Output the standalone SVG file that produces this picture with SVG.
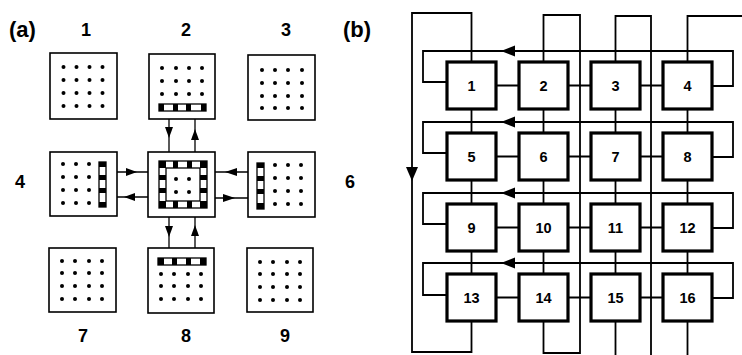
<svg xmlns="http://www.w3.org/2000/svg" width="742" height="355" viewBox="0 0 742 355">
<style>
.bg{fill:#fff}
.box{fill:#fff;stroke:#000;stroke-width:1.6}
.dot{fill:#000}
.bar{fill:#fff;stroke:#000;stroke-width:1.3}
.blk{fill:#000}
.ln{fill:none;stroke:#000;stroke-width:1.3}
.ln2{fill:none;stroke:#000;stroke-width:1.8}
.ah{fill:#000}
.node{fill:#fff;stroke:#000;stroke-width:3.2}
.lbl{font-family:"Liberation Sans",Arial,sans-serif;font-weight:bold;font-size:18px;fill:#000;text-anchor:middle}
.big{font-family:"Liberation Sans",Arial,sans-serif;font-weight:bold;font-size:22px;fill:#000}
.nt{font-family:"Liberation Sans",Arial,sans-serif;font-weight:bold;font-size:14.5px;fill:#000;text-anchor:middle}
</style>
<rect class="bg" x="0" y="0" width="742" height="355"/>

<!-- Part (a) -->
<text class="big" x="9" y="37">(a)</text>
<text class="lbl" x="86" y="36">1</text>
<text class="lbl" x="186" y="36">2</text>
<text class="lbl" x="286" y="36">3</text>
<text class="lbl" x="20" y="188">4</text>
<text class="lbl" x="350" y="188">6</text>
<text class="lbl" x="83" y="342">7</text>
<text class="lbl" x="186" y="342">8</text>
<text class="lbl" x="285" y="342">9</text>

<g id="a-connectors">
  <path class="ln" d="M169 111 V161"/>
  <polygon class="ah" points="165,127 173,127 169,138"/>
  <path class="ln" d="M195 111 V161"/>
  <polygon class="ah" points="191,140 199,140 195,129"/>
  <path class="ln" d="M169 208 V258"/>
  <polygon class="ah" points="165,226 173,226 169,237"/>
  <path class="ln" d="M195 208 V258"/>
  <polygon class="ah" points="191,236 199,236 195,225"/>
  <path class="ln" d="M106 172 H159"/>
  <polygon class="ah" points="126,168 126,176 137,172"/>
  <path class="ln" d="M106 197 H159"/>
  <polygon class="ah" points="135,193 135,201 124,197"/>
  <path class="ln" d="M207 172 H257"/>
  <polygon class="ah" points="237,168 237,176 225,172"/>
  <path class="ln" d="M207 198 H257"/>
  <polygon class="ah" points="223,194 223,202 235,198"/>
</g>

<g id="a1">
  <rect class="box" x="50" y="53" width="67" height="66"/>
  <g class="dot">
    <circle cx="63.5" cy="67" r="2"/><circle cx="76.5" cy="67" r="2"/><circle cx="89.5" cy="67" r="2"/><circle cx="102.5" cy="67" r="2"/>
    <circle cx="63.5" cy="80" r="2"/><circle cx="76.5" cy="80" r="2"/><circle cx="89.5" cy="80" r="2"/><circle cx="102.5" cy="80" r="2"/>
    <circle cx="63.5" cy="93" r="2"/><circle cx="76.5" cy="93" r="2"/><circle cx="89.5" cy="93" r="2"/><circle cx="102.5" cy="93" r="2"/>
    <circle cx="63.5" cy="106" r="2"/><circle cx="76.5" cy="106" r="2"/><circle cx="89.5" cy="106" r="2"/><circle cx="102.5" cy="106" r="2"/>
  </g>
</g>
<g id="a2">
  <rect class="box" x="149" y="54" width="66" height="65"/>
  <g class="dot">
    <circle cx="162" cy="68" r="2"/><circle cx="176" cy="68" r="2"/><circle cx="189" cy="68" r="2"/><circle cx="202" cy="68" r="2"/>
    <circle cx="162" cy="81" r="2"/><circle cx="176" cy="81" r="2"/><circle cx="189" cy="81" r="2"/><circle cx="202" cy="81" r="2"/>
    <circle cx="162" cy="94" r="2"/><circle cx="176" cy="94" r="2"/><circle cx="189" cy="94" r="2"/><circle cx="202" cy="94" r="2"/>
  </g>
  <rect class="bar" x="159" y="104" width="47" height="7"/>
  <rect class="blk" x="159" y="104" width="5" height="7"/>
  <rect class="blk" x="173" y="104" width="5" height="7"/>
  <rect class="blk" x="186" y="104" width="5" height="7"/>
  <rect class="blk" x="201" y="104" width="5" height="7"/>
</g>
<g id="a3">
  <rect class="box" x="248" y="55" width="67" height="65"/>
  <g class="dot">
    <circle cx="262" cy="70" r="2"/><circle cx="275" cy="70" r="2"/><circle cx="288" cy="70" r="2"/><circle cx="302" cy="70" r="2"/>
    <circle cx="262" cy="83" r="2"/><circle cx="275" cy="83" r="2"/><circle cx="288" cy="83" r="2"/><circle cx="302" cy="83" r="2"/>
    <circle cx="262" cy="96" r="2"/><circle cx="275" cy="96" r="2"/><circle cx="288" cy="96" r="2"/><circle cx="302" cy="96" r="2"/>
    <circle cx="262" cy="108" r="2"/><circle cx="275" cy="108" r="2"/><circle cx="288" cy="108" r="2"/><circle cx="302" cy="108" r="2"/>
  </g>
</g>
<g id="a4">
  <rect class="box" x="50" y="152" width="67" height="64"/>
  <g class="dot">
    <circle cx="63" cy="164" r="2"/><circle cx="76" cy="164" r="2"/><circle cx="89" cy="164" r="2"/>
    <circle cx="63" cy="177" r="2"/><circle cx="76" cy="177" r="2"/><circle cx="89" cy="177" r="2"/>
    <circle cx="63" cy="190" r="2"/><circle cx="76" cy="190" r="2"/><circle cx="89" cy="190" r="2"/>
    <circle cx="63" cy="203" r="2"/><circle cx="76" cy="203" r="2"/><circle cx="89" cy="203" r="2"/>
  </g>
  <rect class="bar" x="99" y="162" width="7" height="45"/>
  <rect class="blk" x="99" y="162" width="7" height="5"/>
  <rect class="blk" x="99" y="175" width="7" height="5"/>
  <rect class="blk" x="99" y="188" width="7" height="5"/>
  <rect class="blk" x="99" y="202" width="7" height="5"/>
</g>
<g id="a5">
  <rect class="box" x="148" y="152" width="67" height="65"/>
  <rect class="bar" x="159" y="161" width="48" height="47"/>
  <rect class="bar" x="166" y="168" width="34" height="33"/>
  <rect class="blk" x="159" y="161" width="7" height="7"/>
  <rect class="blk" x="173" y="161" width="5" height="7"/>
  <rect class="blk" x="187" y="161" width="5" height="7"/>
  <rect class="blk" x="200" y="161" width="7" height="7"/>
  <rect class="blk" x="159" y="201" width="7" height="7"/>
  <rect class="blk" x="173" y="201" width="5" height="7"/>
  <rect class="blk" x="187" y="201" width="5" height="7"/>
  <rect class="blk" x="200" y="201" width="7" height="7"/>
  <rect class="blk" x="159" y="175" width="7" height="5"/>
  <rect class="blk" x="159" y="188" width="7" height="5"/>
  <rect class="blk" x="200" y="175" width="7" height="5"/>
  <rect class="blk" x="200" y="188" width="7" height="5"/>
  <g class="dot">
    <circle cx="176" cy="179" r="2"/><circle cx="189" cy="179" r="2"/>
    <circle cx="176" cy="192" r="2"/><circle cx="189" cy="192" r="2"/>
  </g>
</g>
<g id="a6">
  <rect class="box" x="248" y="152" width="67" height="65"/>
  <rect class="bar" x="257" y="163" width="7" height="46"/>
  <rect class="blk" x="257" y="163" width="7" height="5"/>
  <rect class="blk" x="257" y="176" width="7" height="5"/>
  <rect class="blk" x="257" y="189" width="7" height="5"/>
  <rect class="blk" x="257" y="203" width="7" height="6"/>
  <g class="dot">
    <circle cx="275" cy="165" r="2"/><circle cx="288" cy="165" r="2"/><circle cx="301" cy="165" r="2"/>
    <circle cx="275" cy="178" r="2"/><circle cx="288" cy="178" r="2"/><circle cx="301" cy="178" r="2"/>
    <circle cx="275" cy="191" r="2"/><circle cx="288" cy="191" r="2"/><circle cx="301" cy="191" r="2"/>
    <circle cx="275" cy="204" r="2"/><circle cx="288" cy="204" r="2"/><circle cx="301" cy="204" r="2"/>
  </g>
</g>
<g id="a7">
  <rect class="box" x="49" y="248" width="67" height="64"/>
  <g class="dot">
    <circle cx="62" cy="261" r="2"/><circle cx="75" cy="261" r="2"/><circle cx="89" cy="261" r="2"/><circle cx="102" cy="261" r="2"/>
    <circle cx="62" cy="273" r="2"/><circle cx="75" cy="273" r="2"/><circle cx="89" cy="273" r="2"/><circle cx="102" cy="273" r="2"/>
    <circle cx="62" cy="286" r="2"/><circle cx="75" cy="286" r="2"/><circle cx="89" cy="286" r="2"/><circle cx="102" cy="286" r="2"/>
    <circle cx="62" cy="299" r="2"/><circle cx="75" cy="299" r="2"/><circle cx="89" cy="299" r="2"/><circle cx="102" cy="299" r="2"/>
  </g>
</g>
<g id="a8">
  <rect class="box" x="148" y="248" width="66" height="65"/>
  <rect class="bar" x="158" y="258" width="48" height="7"/>
  <rect class="blk" x="158" y="258" width="6" height="7"/>
  <rect class="blk" x="172" y="258" width="5" height="7"/>
  <rect class="blk" x="186" y="258" width="5" height="7"/>
  <rect class="blk" x="200" y="258" width="6" height="7"/>
  <g class="dot">
    <circle cx="161" cy="274" r="2"/><circle cx="174" cy="274" r="2"/><circle cx="188" cy="274" r="2"/><circle cx="201" cy="274" r="2"/>
    <circle cx="161" cy="286" r="2"/><circle cx="174" cy="286" r="2"/><circle cx="188" cy="286" r="2"/><circle cx="201" cy="286" r="2"/>
    <circle cx="161" cy="299" r="2"/><circle cx="174" cy="299" r="2"/><circle cx="188" cy="299" r="2"/><circle cx="201" cy="299" r="2"/>
  </g>
</g>
<g id="a9">
  <rect class="box" x="247" y="248" width="66" height="64"/>
  <g class="dot">
    <circle cx="260" cy="262" r="2"/><circle cx="273" cy="262" r="2"/><circle cx="287" cy="262" r="2"/><circle cx="300" cy="262" r="2"/>
    <circle cx="260" cy="274" r="2"/><circle cx="273" cy="274" r="2"/><circle cx="287" cy="274" r="2"/><circle cx="300" cy="274" r="2"/>
    <circle cx="260" cy="287" r="2"/><circle cx="273" cy="287" r="2"/><circle cx="287" cy="287" r="2"/><circle cx="300" cy="287" r="2"/>
    <circle cx="260" cy="300" r="2"/><circle cx="273" cy="300" r="2"/><circle cx="287" cy="300" r="2"/><circle cx="300" cy="300" r="2"/>
  </g>
</g>

<!-- Part (b) -->
<text class="big" x="343" y="37">(b)</text>

<g id="b-connectors">
  <path class="ln2" d="M712 86 H733 V51 H423 V82 H447"/>
  <polygon class="ah" points="515,45.5 515,56.5 501,51"/>
  <path class="ln2" d="M712 157 H733 V122 H423 V153 H447"/>
  <polygon class="ah" points="515,116.5 515,127.5 501,122"/>
  <path class="ln2" d="M712 228 H733 V193 H423 V224 H447"/>
  <polygon class="ah" points="515,187.5 515,198.5 501,193"/>
  <path class="ln2" d="M712 298 H733 V263 H423 V295 H447"/>
  <polygon class="ah" points="515,257.5 515,268.5 501,263"/>
  <path class="ln2" d="M496 85.5 H519 M568 85.5 H591 M640 85.5 H663"/>
  <path class="ln2" d="M496 156.5 H519 M568 156.5 H591 M640 156.5 H663"/>
  <path class="ln2" d="M496 227.5 H519 M568 227.5 H591 M640 227.5 H663"/>
  <path class="ln2" d="M496 297.5 H519 M568 297.5 H591 M640 297.5 H663"/>
  <path class="ln2" d="M471.5 109 V133 M471.5 180 V204 M471.5 251 V274"/>
  <path class="ln2" d="M543.5 109 V133 M543.5 180 V204 M543.5 251 V274"/>
  <path class="ln2" d="M615.5 109 V133 M615.5 180 V204 M615.5 251 V274"/>
  <path class="ln2" d="M687.5 109 V133 M687.5 180 V204 M687.5 251 V274"/>
  <path class="ln2" d="M471.5 62 V13 H412 V352 H471.5 V321"/>
  <polygon class="ah" points="406,167 418,167 412,181"/>
  <path class="ln2" d="M543.5 62 V15 H580 V353 H543.5 V321"/>
  <path class="ln2" d="M615.5 62 V16 H651 V355"/>
  <path class="ln2" d="M615.5 321 V355"/>
  <path class="ln2" d="M687.5 62 V16 H742"/>
  <path class="ln2" d="M687.5 321 V355"/>
</g>

<g id="n1"><rect class="node" x="447" y="62" width="49" height="47"/><text class="nt" x="471.5" y="90.5">1</text></g>
<g id="n2"><rect class="node" x="519" y="62" width="49" height="47"/><text class="nt" x="543.5" y="90.5">2</text></g>
<g id="n3"><rect class="node" x="591" y="62" width="49" height="47"/><text class="nt" x="615.5" y="90.5">3</text></g>
<g id="n4"><rect class="node" x="663" y="62" width="49" height="47"/><text class="nt" x="687.5" y="90.5">4</text></g>
<g id="n5"><rect class="node" x="447" y="133" width="49" height="47"/><text class="nt" x="471.5" y="161.5">5</text></g>
<g id="n6"><rect class="node" x="519" y="133" width="49" height="47"/><text class="nt" x="543.5" y="161.5">6</text></g>
<g id="n7"><rect class="node" x="591" y="133" width="49" height="47"/><text class="nt" x="615.5" y="161.5">7</text></g>
<g id="n8"><rect class="node" x="663" y="133" width="49" height="47"/><text class="nt" x="687.5" y="161.5">8</text></g>
<g id="n9"><rect class="node" x="447" y="204" width="49" height="47"/><text class="nt" x="471.5" y="232.5">9</text></g>
<g id="n10"><rect class="node" x="519" y="204" width="49" height="47"/><text class="nt" x="543.5" y="232.5">10</text></g>
<g id="n11"><rect class="node" x="591" y="204" width="49" height="47"/><text class="nt" x="615.5" y="232.5">11</text></g>
<g id="n12"><rect class="node" x="663" y="204" width="49" height="47"/><text class="nt" x="687.5" y="232.5">12</text></g>
<g id="n13"><rect class="node" x="447" y="274" width="49" height="47"/><text class="nt" x="471.5" y="302.5">13</text></g>
<g id="n14"><rect class="node" x="519" y="274" width="49" height="47"/><text class="nt" x="543.5" y="302.5">14</text></g>
<g id="n15"><rect class="node" x="591" y="274" width="49" height="47"/><text class="nt" x="615.5" y="302.5">15</text></g>
<g id="n16"><rect class="node" x="663" y="274" width="49" height="47"/><text class="nt" x="687.5" y="302.5">16</text></g>
</svg>
